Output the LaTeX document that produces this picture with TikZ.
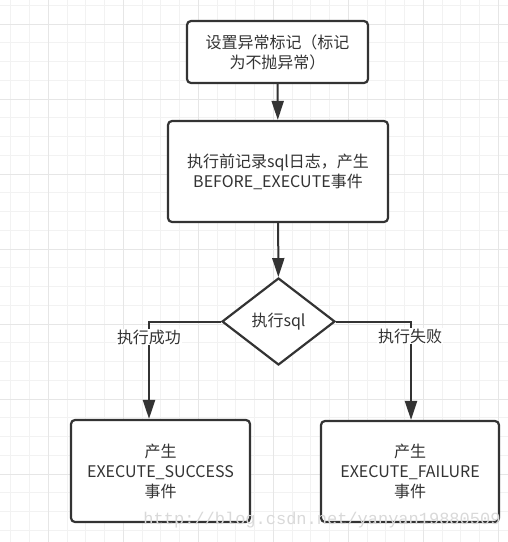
\documentclass[tikz,border=0pt]{standalone}
\usepackage{fontspec}
\setmainfont{Noto Sans CJK SC}
\newfontfamily\stampfont{Liberation Mono}
\usetikzlibrary{shapes.geometric,arrows.meta}
\definecolor{ink}{HTML}{333333}
\definecolor{gridminor}{HTML}{F2F2F2}
\definecolor{gridmajor}{HTML}{E6E6E6}
\begin{document}
\begin{tikzpicture}[x=1pt,y=-1pt,
  every node/.style={font=\fontsize{16}{20}\selectfont, text=ink},
  block/.style={draw=ink, line width=2.2pt, rounded corners=4pt, fill=white, align=center, inner sep=0pt},
  decision/.style={draw=ink, line width=2.2pt, diamond, fill=white, inner sep=0pt},
  flow/.style={draw=ink, line width=2pt, -{Triangle[length=19pt,width=12pt]}},
  branch/.style={fill=white, inner sep=1pt}]
\useasboundingbox (0,0) rectangle (508,542);
% Draw grid
\fill[white] (0,0) rectangle (508,542);
\foreach \i in {0,...,26} \draw[gridminor, line width=1pt] (10.75+18.75*\i,0) -- (10.75+18.75*\i,542);
\foreach \i in {0,...,28} \draw[gridminor, line width=1pt] (0,5.25+18.75*\i) -- (508,5.25+18.75*\i);
\foreach \i in {0,...,6} \draw[gridmajor, line width=1pt] (48.25+75*\i,0) -- (48.25+75*\i,542);
\foreach \i in {0,...,7} \draw[gridmajor, line width=1pt] (0,24+75*\i) -- (508,24+75*\i);
% Draw steps
\node[block, minimum width=181, minimum height=62] (mark) at (277.5,52) {设置异常标记（标记\\为不抛异常）};
\node[block, minimum width=220, minimum height=101] (log) at (278,171.5) {执行前记录sql日志，产生\\BEFORE\_EXECUTE事件};
\node[decision, minimum width=113, minimum height=87] (exec) at (278.5,321.5) {执行sql};
\node[block, minimum width=179, minimum height=102] (success) at (160.5,471) {产生\\EXECUTE\_SUCCESS\\事件};
\node[block, minimum width=178, minimum height=101] (failure) at (410,471.5) {产生\\EXECUTE\_FAILURE\\事件};
% Draw connectors
\coordinate (turnL) at (149,321.5);
\coordinate (turnR) at (411,321.5);
\draw[flow] (mark) -- (log);
\draw[flow] (log) -- (exec);
\draw[flow] (exec.west) -- (turnL) -- (turnL |- success.north);
\draw[flow] (exec.east) -- (turnR) -- (turnR |- failure.north);
\node[branch] (okLabel) at (149,337) {执行成功};
\node[branch] (failLabel) at (410,336) {执行失败};
% Watermark
\node[text=gray!30, font=\stampfont\fontsize{17}{17}\selectfont] (stamp) at (322,520) {http://blog.csdn.net/yanyan19880509};
\end{tikzpicture}
\end{document}
